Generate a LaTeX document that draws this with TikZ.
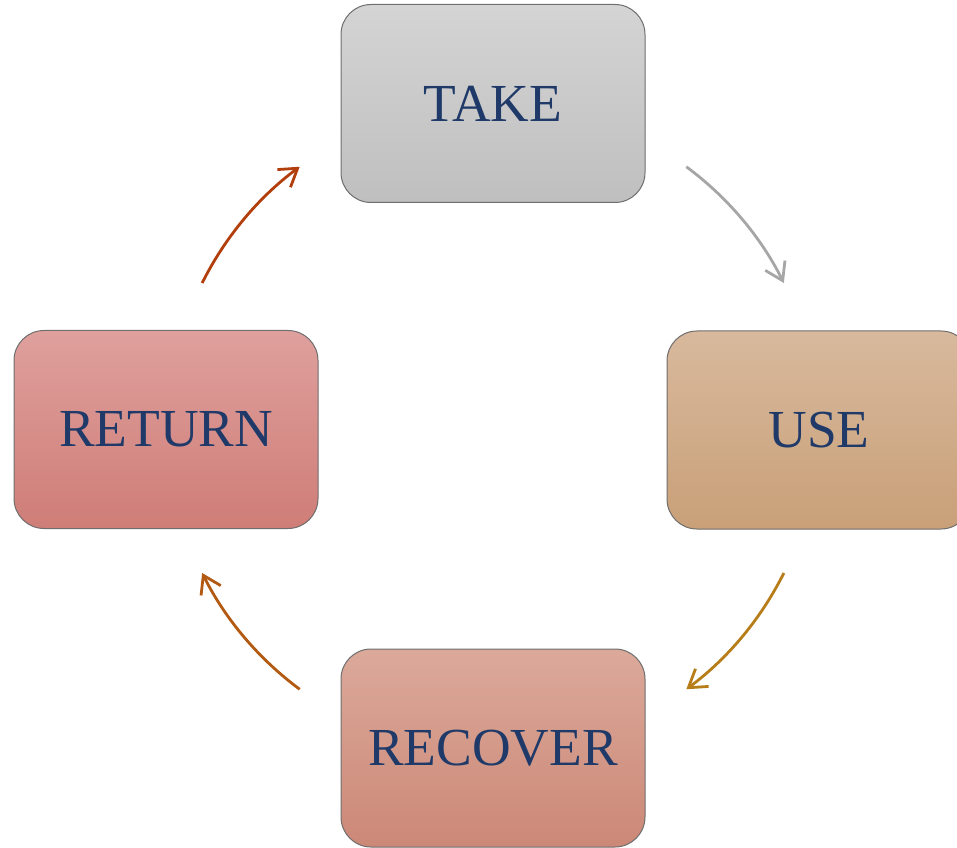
\documentclass[tikz,border=0pt]{standalone}
\usepackage{fontspec}
\setmainfont{Liberation Serif}
\usetikzlibrary{arrows.meta,calc}
\definecolor{txt}{HTML}{1F3A68}
\definecolor{bord}{HTML}{6E6E6E}
\definecolor{takeT}{HTML}{D4D4D4}\definecolor{takeB}{HTML}{BFBFBF}
\definecolor{useT}{HTML}{D8B99D}\definecolor{useB}{HTML}{C9A078}
\definecolor{recT}{HTML}{DBA99A}\definecolor{recB}{HTML}{CC8877}
\definecolor{retT}{HTML}{DFA09D}\definecolor{retB}{HTML}{CF7D77}
\definecolor{aA}{HTML}{A6A6A6}
\definecolor{aB}{HTML}{B67D18}
\definecolor{aC}{HTML}{B35A12}
\definecolor{aD}{HTML}{B23E0C}
\tikzset{
  stagebox/.style={draw=bord, line width=1pt, rounded corners=30pt,
    minimum width=304pt, minimum height=198pt, inner sep=0pt,
    text=txt, font=\fontsize{53.5}{60}\selectfont},
  cyclearrow/.style={line width=2.8pt, -{Straight Barb[length=17pt,width=22pt]}},
}
\begin{document}
\begin{tikzpicture}[x=1pt,y=1pt]
\useasboundingbox (0,0) rectangle (957,847);
\clip (0,0) rectangle (957,847);
\node[stagebox, top color=takeT, bottom color=takeB] (take) at (493,743.5) {TAKE};
\node[stagebox, top color=useT, bottom color=useB] (use) at (819,417) {USE};
\node[stagebox, top color=recT, bottom color=recB] (recover) at (493,99) {RECOVER};
\node[stagebox, top color=retT, bottom color=retB] (return) at (166,417.5) {RETURN};
\coordinate (ctr) at (493,419);
\coordinate (s1) at ($(ctr)+(53.5:325)$);
\coordinate (s2) at ($(ctr)+(-26.5:325)$);
\coordinate (s3) at ($(ctr)+(233.5:325)$);
\coordinate (s4) at ($(ctr)+(153.5:325)$);
\draw[cyclearrow, aA] (s1) arc[start angle=53.5, end angle=26.5, radius=325];
\draw[cyclearrow, aB] (s2) arc[start angle=-26.5, end angle=-53.5, radius=325];
\draw[cyclearrow, aC] (s3) arc[start angle=233.5, end angle=206.5, radius=325];
\draw[cyclearrow, aD] (s4) arc[start angle=153.5, end angle=126.5, radius=325];
\end{tikzpicture}
\end{document}
